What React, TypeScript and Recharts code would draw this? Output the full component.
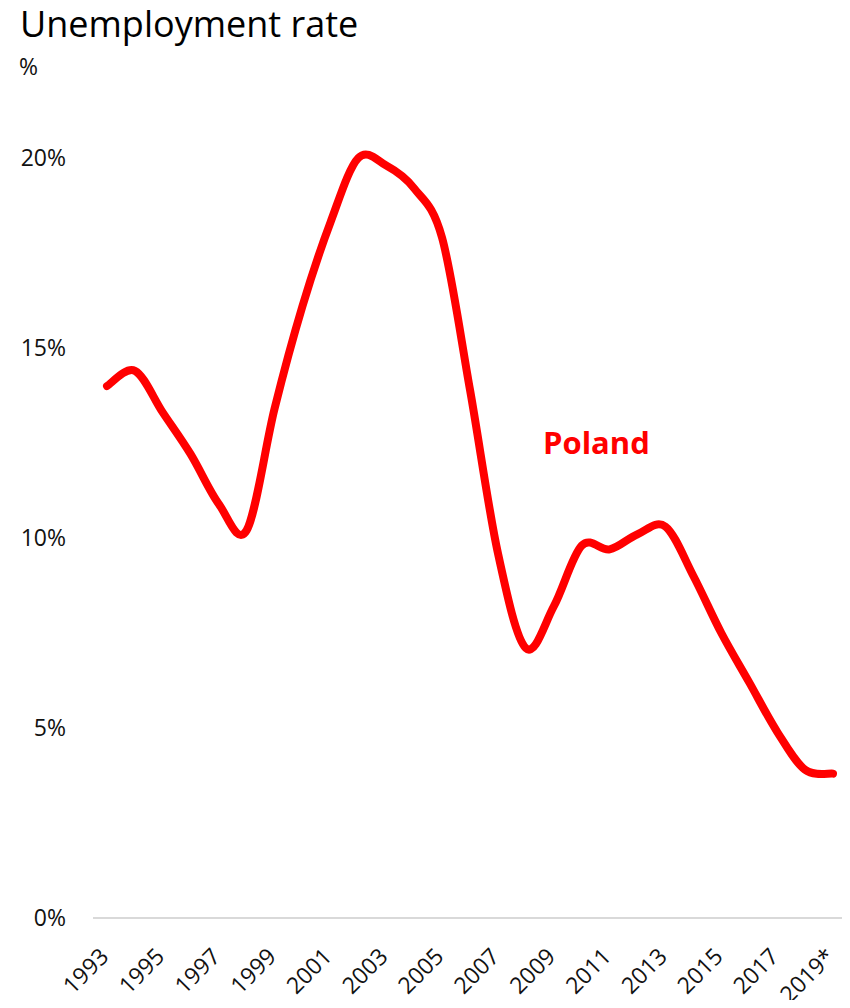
import { LineChart, Line, XAxis, YAxis } from 'recharts'

const years = [
  '1993', '1994', '1995', '1996', '1997', '1998', '1999', '2000', '2001',
  '2002', '2003', '2004', '2005', '2006', '2007', '2008', '2009', '2010',
  '2011', '2012', '2013', '2014', '2015', '2016', '2017', '2018', '2019*',
]

const poland = [
  14.0, 14.4, 13.3, 12.2, 10.9, 10.2, 13.4, 16.1, 18.3,
  20.0, 19.8, 19.2, 17.9, 13.9, 9.6, 7.1, 8.2, 9.8,
  9.7, 10.1, 10.3, 9.0, 7.5, 6.2, 4.9, 3.9, 3.8,
]

const yTicks = [0, 5, 10, 15, 20]

const data = years.map((year, i) => ({ year, poland: poland[i] }))

const FONT = '"Open Sans", sans-serif'

// Excel-like smoothed line (uniform Catmull-Rom through every point)
function smoothCurve(context: any) {
  let pts: [number, number][] = []
  return {
    areaStart() {},
    areaEnd() {},
    lineStart() {
      pts = []
    },
    point(x: number, y: number) {
      pts.push([x, y])
    },
    lineEnd() {
      if (!pts.length) return
      context.moveTo(pts[0][0], pts[0][1])
      for (let i = 0; i < pts.length - 1; i++) {
        const p0 = pts[i - 1] || pts[i]
        const p1 = pts[i]
        const p2 = pts[i + 1]
        const p3 = pts[i + 2] || p2
        context.bezierCurveTo(
          p1[0] + (p2[0] - p0[0]) / 6,
          p1[1] + (p2[1] - p0[1]) / 6,
          p2[0] - (p3[0] - p1[0]) / 6,
          p2[1] - (p3[1] - p1[1]) / 6,
          p2[0],
          p2[1]
        )
      }
    },
  }
}

function YearTick({ x, y, payload }: any) {
  const ax = x + 3
  const ay = y + 40
  return (
    <text
      x={ax}
      y={ay}
      textAnchor="end"
      transform={`rotate(-45, ${ax}, ${ay})`}
      fill="#111"
      fontSize={23}
      fontFamily={FONT}
    >
      {payload.value}
    </text>
  )
}

export default function App() {
  return (
    <div style={{ position: 'relative', width: 850, height: 1008, margin: -8, background: '#fff', fontFamily: FONT }}>
      <div style={{ position: 'absolute', left: 20, top: 6, fontSize: 36, lineHeight: 1, color: '#000' }}>
        Unemployment rate
      </div>
      <div style={{ position: 'absolute', left: 19, top: 55, fontSize: 23, lineHeight: 1, color: '#111' }}>
        %
      </div>

      <LineChart width={850} height={1008} data={data} margin={{ top: 82, right: 3, left: 0, bottom: 0 }}>
        <XAxis
          dataKey="year"
          interval={1}
          height={90}
          padding={{ left: 14, right: 14 }}
          axisLine={{ stroke: '#d9d9d9', strokeWidth: 2 }}
          tickLine={false}
          tickSize={0}
          tickMargin={0}
          tick={<YearTick />}
        />
        <YAxis
          width={93}
          domain={[0, 22]}
          ticks={yTicks}
          tickFormatter={(v) => `${v}%`}
          axisLine={false}
          tickLine={false}
          tickSize={0}
          tickMargin={27}
          tick={{ fill: '#111', fontSize: 23, fontFamily: FONT }}
        />
        <Line
          dataKey="poland"
          type={smoothCurve as any}
          stroke="#ff0000"
          strokeWidth={8}
          strokeLinecap="round"
          strokeLinejoin="round"
          dot={false}
          activeDot={false}
          isAnimationActive={false}
        />
      </LineChart>

      <div style={{ position: 'absolute', left: 543, top: 427, fontSize: 31, lineHeight: 1, fontWeight: 700, color: '#ff0000' }}>
        Poland
      </div>
    </div>
  )
}
